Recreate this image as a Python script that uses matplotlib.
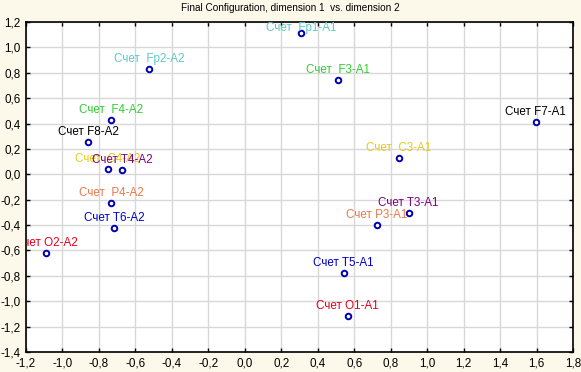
import matplotlib
matplotlib.use('Agg')

import matplotlib.pyplot as plt
from matplotlib.ticker import FuncFormatter, MultipleLocator

# data
labels = ['Счет  Fp1-A1', 'Счет  Fp2-A2', 'Счет  F3-A1', 'Счет F7-A1', 'Счет  F4-A2',
          'Счет F8-A2', 'Счет  C3-A1', 'Счет  C4-A2', 'Счет T4-A2', 'Счет  P4-A2',
          'Счет T6-A2', 'Счет O2-A2', 'Счет T3-A1', 'Счет P3-A1', 'Счет T5-A1',
          'Счет O1-A1']
dim1 = [0.307, -0.526, 0.510, 1.595, -0.734, -0.860, 0.844, -0.751, -0.674, -0.734,
        -0.718, -1.090, 0.899, 0.723, 0.542, 0.564]
dim2 = [1.113, 0.830, 0.743, 0.413, 0.425, 0.255, 0.129, 0.042, 0.035, -0.225,
        -0.422, -0.619, -0.304, -0.398, -0.776, -1.115]

GROUP_COLORS = {
	'Fp': '#5ccaca', 'F3': '#33cc33', 'F4': '#33cc33', 'F7': '#000000', 'F8': '#000000',
	'C': '#e8c81c', 'T3': '#800080', 'T4': '#800080', 'P': '#e87a48',
	'T5': '#0000cc', 'T6': '#0000cc', 'O': '#e8001c',
}


def label_color(lab):
	name = lab.split()[-1]
	for key in sorted(GROUP_COLORS, key=len, reverse=True):
		if name.startswith(key):
			return GROUP_COLORS[key]
	return '#000000'


def comma(v, pos):
	return ('%.1f' % v).replace('.', ',')


plt.rcParams['font.family'] = ['Liberation Sans', 'DejaVu Sans']

fig = plt.figure(figsize=(5.81, 3.72), dpi=100, facecolor='#fdf9ea')
ax = fig.add_axes([0.0448, 0.0538, 0.9414, 0.8871])
ax.set_facecolor('white')

ax.scatter(dim1, dim2, s=16, facecolor='white', edgecolor='#0000b4', linewidth=1.4, zorder=3)

# C4 label first so T4 sits on top of it, as in the original
order = list(range(len(labels)))
order.remove(8)
order.append(8)
for i in order:
	# the top label gets pushed down a bit so it stays mostly inside the plot
	dy = -1 if dim2[i] > 1.05 else 3
	ax.annotate(labels[i], xy=(dim1[i], dim2[i]), xytext=(0, dy), textcoords='offset points',
				ha='center', va='bottom', fontsize=8.4, color=label_color(labels[i]),
				annotation_clip=False, clip_on=True, zorder=4)

ax.set_xlim(-1.2, 1.8)
ax.set_ylim(-1.4, 1.2)
ax.xaxis.set_major_locator(MultipleLocator(0.2))
ax.yaxis.set_major_locator(MultipleLocator(0.2))
ax.xaxis.set_major_formatter(FuncFormatter(comma))
ax.yaxis.set_major_formatter(FuncFormatter(comma))
ax.grid(True, color='#d8d8d8', linewidth=1)
ax.set_axisbelow(True)
ax.tick_params(direction='in', length=3, width=1, top=True, right=True,
			   labelsize=8.4, pad=4)
for s in ax.spines.values():
	s.set_linewidth(1.2)

fig.text(0.499, 0.979, 'Final Configuration, dimension 1  vs. dimension 2',
		 ha='center', va='center', fontsize=7.2)

fig.savefig('out.png', dpi=100, facecolor=fig.get_facecolor())
